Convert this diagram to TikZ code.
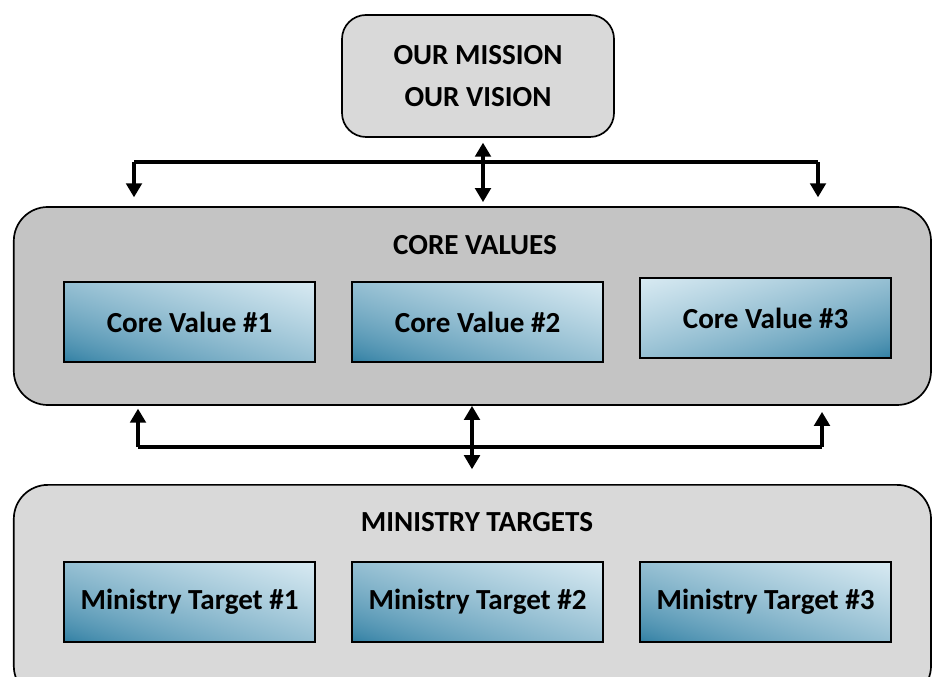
\documentclass[tikz,border=0pt]{standalone}
\usepackage{fontspec}
\setmainfont{Carlito}
\usetikzlibrary{arrows.meta}
\definecolor{boxlight}{HTML}{D9D9D9}
\definecolor{boxdark}{HTML}{C4C4C4}
% dark in the lower left corner, light in the upper right one
\pgfdeclarefunctionalshading{cvfade}{\pgfpointorigin}{\pgfpoint{100bp}{100bp}}{}{
  add 50 sub 100 div
  dup 0 lt {pop 0} if dup 1 gt {pop 1} if
  0.7 exp
  dup 0.682 mul 0.165 add exch
  dup 0.435 mul 0.482 add exch
  0.322 mul 0.627 add
}
% dark in the lower right corner, light in the upper left one
\pgfdeclarefunctionalshading{cvfadeb}{\pgfpointorigin}{\pgfpoint{100bp}{100bp}}{}{
  exch sub 50 add 100 div
  dup 0 lt {pop 0} if dup 1 gt {pop 1} if
  0.7 exp
  dup 0.682 mul 0.165 add exch
  dup 0.435 mul 0.482 add exch
  0.322 mul 0.627 add
}
\begin{document}
\begin{tikzpicture}[
  outer/.style={draw=black, line width=1.2pt, rounded corners=0.85cm},
  inner/.style={draw=black, line width=1.5pt, minimum width=6.275cm, minimum height=2cm,
    shading=cvfade, font=\fontsize{20.7}{24}\selectfont\bfseries},
  title/.style={font=\fontsize{20.7}{24}\selectfont\bfseries},
  conn/.style={line width=3.5pt, -{Triangle[width=11pt,length=10pt]}},
  both/.style={line width=3.5pt, {Triangle[width=11pt,length=10pt]}-{Triangle[width=11pt,length=10pt]}}]
\useasboundingbox (0,0) rectangle (23.3,-16.925);
\clip (0,0) rectangle (23.3,-16.925);
\node[outer, fill=boxlight, rounded corners=0.6cm, minimum width=6.8cm, minimum height=3.05cm,
  align=center, font=\fontsize{20.7}{30}\selectfont\bfseries] (mission) at (11.95,-1.9) {OUR MISSION\\OUR VISION};
\node[outer, fill=boxdark, minimum width=22.93cm, minimum height=4.95cm] (core) at (11.81,-7.65) {};
\node[outer, fill=boxlight, minimum width=22.93cm, minimum height=5.375cm] (ministry) at (11.81,-14.81) {};
\node[title] (coretitle) at (11.875,-6.125) {CORE VALUES};
\node[title] (mintitle) at (11.925,-13.05) {MINISTRY TARGETS};
\node[inner] (cv1) at (4.74,-8.05) {Core Value \#1};
\node[inner] (cv2) at (11.94,-8.05) {Core Value \#2};
\node[inner, shading=cvfadeb] (cv3) at (19.14,-7.96) {Core Value \#3};
\node[inner] (mt1) at (4.74,-15.05) {Ministry Target \#1};
\node[inner] (mt2) at (11.94,-15.05) {Ministry Target \#2};
\node[inner] (mt3) at (19.14,-15.05) {Ministry Target \#3};
% mission to core values
\coordinate (tl) at (3.35,-4.05);
\coordinate (tr) at (20.45,-4.05);
\coordinate (tc) at (12.075,-4.05);
\draw[line width=3.5pt] (tl) -- (tr);
\draw[conn, shorten >=0.22cm] (tl) -- (tl |- core.north);
\draw[conn, shorten >=0.22cm] (tr) -- (tr |- core.north);
\draw[both, shorten <=0.12cm, shorten >=0.1cm] (tc |- mission.south) -- (tc |- core.north);
% core values to ministry targets
\coordinate (bl) at (3.45,-11.175);
\coordinate (br) at (20.55,-11.175);
\coordinate (bc) at (11.8,-11.175);
\draw[line width=3.5pt] (bl) -- (br);
\draw[conn, shorten >=0.07cm] (bl) -- (bl |- core.south);
\draw[conn, shorten >=0.15cm] (br) -- (br |- core.south);
\draw[both, shorten >=0.37cm] (bc |- core.south) -- (bc |- ministry.north);
\end{tikzpicture}
\end{document}
